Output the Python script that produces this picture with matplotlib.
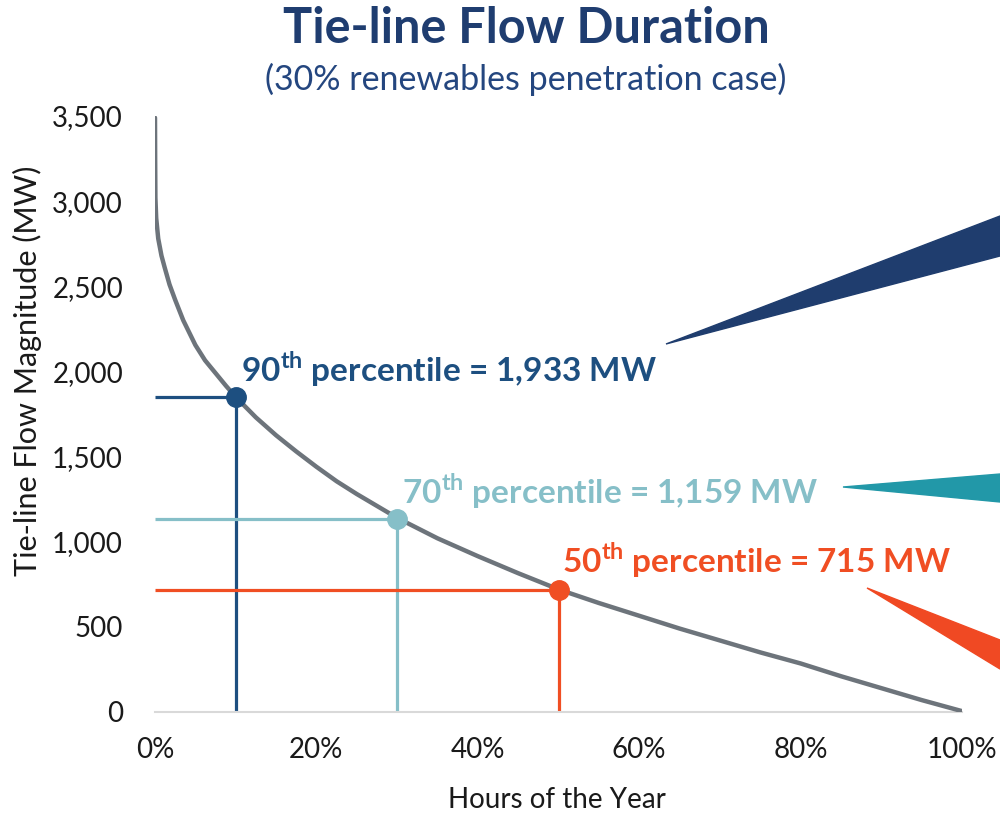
import matplotlib
matplotlib.use("Agg")
import matplotlib.pyplot as plt
from matplotlib.patches import Polygon
from matplotlib.ticker import FuncFormatter

plt.rcParams['font.family'] = ['Lato', 'DejaVu Sans']
plt.rcParams['mathtext.fontset'] = 'custom'
plt.rcParams['mathtext.rm'] = 'Lato'
plt.rcParams['mathtext.bf'] = 'Lato:bold'

# duration curve (% of hours, MW)
hours_pct = [0, 0.02, 0.05, 0.15, 0.4, 0.8, 1.2, 1.8, 2.5, 3.5, 5, 6.2, 7.5, 8.8,
             10, 12.5, 15, 17.5, 20, 22.5, 25, 27.5, 30, 35, 40, 45, 50, 55, 60,
             65, 70, 75, 80, 85, 90, 95, 100]
flow_mw = [3490, 3250, 3020, 2900, 2780, 2680, 2610, 2510, 2420, 2300, 2155, 2065,
           1990, 1915, 1850, 1730, 1625, 1530, 1440, 1355, 1280, 1210, 1140, 1020,
           915, 815, 720, 640, 565, 490, 420, 350, 285, 210, 140, 70, 5]

# percentile markers
pct_names = ["90", "70", "50"]
pct_x = [10, 30, 50]
pct_y = [1850, 1135, 715]
pct_labels = ["1,933 MW", "1,159 MW", "715 MW"]
pct_colors = ["#1d4f80", "#86bfc8", "#f04e23"]
label_pos = [(10.7, 2010), (30.6, 1295), (50.4, 890)]

fig = plt.figure(figsize=(10, 8.15), dpi=100)
ax = fig.add_axes([0.155, 0.1264, 0.807, 0.7313])

for nm, x, y, lab, c, (lx, ly) in zip(pct_names, pct_x, pct_y, pct_labels, pct_colors, label_pos):
    ax.plot([0, x], [y, y], color=c, lw=2.3, solid_capstyle='butt', zorder=2)
    ax.plot([x, x], [0, y], color=c, lw=2.3, solid_capstyle='butt', zorder=2)
    ax.text(lx, ly, nm + r"$^{\mathbf{th}}$ percentile = " + lab, color=c,
            fontsize=24, fontweight='bold', va='center', ha='left')

ax.plot(hours_pct, flow_mw, color="#6d747b", lw=3.2, zorder=3, solid_capstyle='round')

for x, y, c in zip(pct_x, pct_y, pct_colors):
    ax.plot(x, y, 'o', ms=14, color=c, zorder=4)

ax.set_xlim(0, 100)
ax.set_ylim(0, 3500)
ax.set_xticks(range(0, 101, 20))
ax.set_yticks(range(0, 3501, 500))
ax.xaxis.set_major_formatter(FuncFormatter(lambda v, p: f"{int(v)}%"))
ax.yaxis.set_major_formatter(FuncFormatter(lambda v, p: f"{int(v):,}"))
ax.tick_params(length=0, labelsize=20, colors="#1a1a1a")
ax.tick_params(axis='y', pad=23)
ax.tick_params(axis='x', pad=18)
for s in ['top', 'right', 'left']:
    ax.spines[s].set_visible(False)
ax.spines['bottom'].set_color("#d9d9d9")
ax.spines['bottom'].set_linewidth(1.5)

# axis titles
fig.text(0.557, 0.019, "Hours of the Year", ha='center', va='center',
         fontsize=20, color="#1a1a1a")
fig.text(0.027, 0.545, "Tie-line Flow Magnitude (MW)", ha='center', va='center',
         rotation=90, fontsize=22, color="#1a1a1a")

fig.text(0.526, 0.965, "Tie-line Flow Duration", ha='center', va='center',
         fontsize=35, fontweight='bold', color="#1f3d70")
fig.text(0.526, 0.902, "(30% renewables penetration case)", ha='center', va='center',
         fontsize=24.5, color="#24467f")

# callout wedges pointing off the right edge (figure pixels)
wedges = [
    ([(666, 344), (1000, 216), (1000, 256)], "#1f3d6e"),
    ([(843, 487), (1000, 474), (1000, 502)], "#2298a8"),
    ([(867, 588), (1000, 640), (1000, 669)], "#f04923"),
]
for pts, c in wedges:
    fpts = [(px / 1000, 1 - py / 815) for px, py in pts]
    fig.patches.append(Polygon(fpts, closed=True, color=c, transform=fig.transFigure))

fig.savefig("out.png", dpi=100)
